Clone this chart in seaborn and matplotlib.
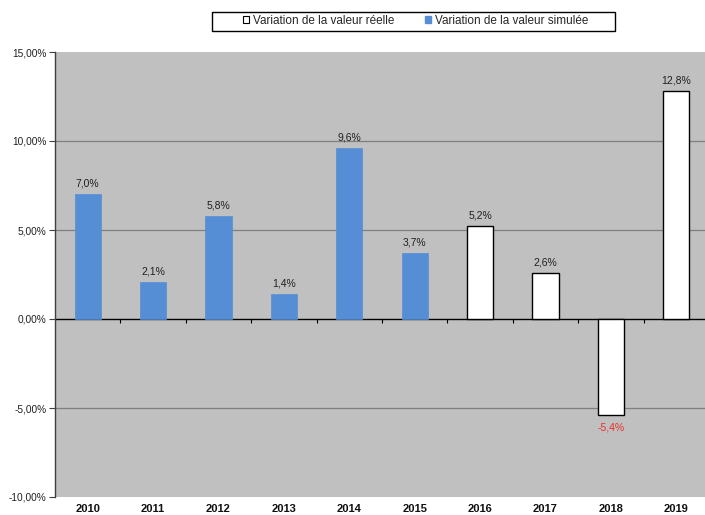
import pandas as pd
import matplotlib
matplotlib.use("Agg")
import matplotlib.pyplot as plt
from matplotlib.patches import Patch, Rectangle
from matplotlib.ticker import FuncFormatter
import seaborn as sns

# Données
annees = ['2010', '2011', '2012', '2013', '2014', '2015', '2016', '2017', '2018', '2019']
variations = [7.0, 2.1, 5.8, 1.4, 9.6, 3.7, 5.2, 2.6, -5.4, 12.8]
series = ['simulée'] * 6 + ['réelle'] * 4
label_reelle = 'Variation de la valeur réelle'
label_simulee = 'Variation de la valeur simulée'

bleu = '#558ED5'
fond = '#C0C0C0'

df = pd.DataFrame({'annee': annees, 'variation': variations, 'serie': series})

sns.set_theme(style="white")
plt.rcParams['font.family'] = ['Liberation Sans', 'DejaVu Sans']

fig = plt.figure(figsize=(7.05, 5.15), dpi=100)
ax = fig.add_axes([55 / 705, 18 / 515, 650 / 705, 445 / 515])
ax.set_facecolor(fond)

sns.barplot(ax=ax, data=df, x='annee', y='variation', hue='serie',
            hue_order=['réelle', 'simulée'],
            palette={'réelle': 'white', 'simulée': bleu}, saturation=1,
            dodge=False, width=0.4, legend=False, zorder=3)

# bordures des barres
for cont, hue in zip(ax.containers, ['réelle', 'simulée']):
    for bar in cont:
        if hue == 'réelle':
            bar.set_edgecolor('black')
            bar.set_linewidth(1.0)
        else:
            bar.set_edgecolor(bleu)
            bar.set_linewidth(0.5)

ax.set_ylim(-10, 15)
ax.set_xlim(-0.5, 9.5 - 4 / 65.4)
ax.set_yticks([-10, -5, 0, 5, 10, 15])
ax.yaxis.set_major_formatter(FuncFormatter(lambda v, p: f"{v:.2f}%".replace('.', ',')))
ax.set_xlabel('')
ax.set_ylabel('')

# grille
for g in [-5, 5, 10]:
    ax.axhline(g, color='#7F7F7F', lw=0.9, zorder=1)

for s in ['top', 'right', 'bottom']:
    ax.spines[s].set_visible(False)
ax.spines['left'].set_color('#404040')
ax.spines['left'].set_linewidth(1.0)

ax.tick_params(axis='y', direction='out', length=4, width=0.8, color='#404040',
               labelsize=7.3, labelcolor='#202020', pad=2, left=True)
ax.tick_params(axis='x', length=0, labelsize=8, labelcolor='#111111', pad=5)
for lab in ax.get_xticklabels():
    lab.set_fontweight('bold')

# ligne du zéro avec graduations entre les catégories
sec = ax.secondary_xaxis(10 / 25)
sec.set_xticks([k + 0.5 for k in range(9)])
sec.set_xticklabels([])
sec.tick_params(direction='out', length=3, width=0.8, color='black')
sec.spines['bottom'].set_color('black')
sec.spines['bottom'].set_linewidth(1.0)
sec.spines['bottom'].set_zorder(4)

# étiquettes de valeurs
for i, v in enumerate(variations):
    txt = f"{v:.1f}%".replace('.', ',')
    if v >= 0:
        ax.annotate(txt, xy=(i, v), xytext=(0, 4), textcoords='offset points',
                    ha='center', va='bottom', fontsize=7.5, color='#202020')
    else:
        ax.annotate(txt, xy=(i, v), xytext=(0, -5), textcoords='offset points',
                    ha='center', va='top', fontsize=7.5, color='#E8302A')

# légende
handles = [Patch(facecolor='white', edgecolor='black', linewidth=0.8, label=label_reelle),
           Patch(facecolor=bleu, edgecolor=bleu, label=label_simulee)]
fig.legend(handles=handles, loc='center', ncol=2, frameon=False,
           bbox_to_anchor=(243 / 705, 1 - 30 / 515, (588 - 243) / 705, 18 / 515),
           mode='expand', fontsize=8.5, handlelength=0.55, handleheight=0.55,
           handletextpad=0.3, borderpad=0, borderaxespad=0)
fig.patches.append(Rectangle((212 / 705, 1 - 31 / 515), 403 / 705, 19 / 515,
                             transform=fig.transFigure, fill=False,
                             edgecolor='black', linewidth=1.0))

plt.savefig("out.png", dpi=100)
